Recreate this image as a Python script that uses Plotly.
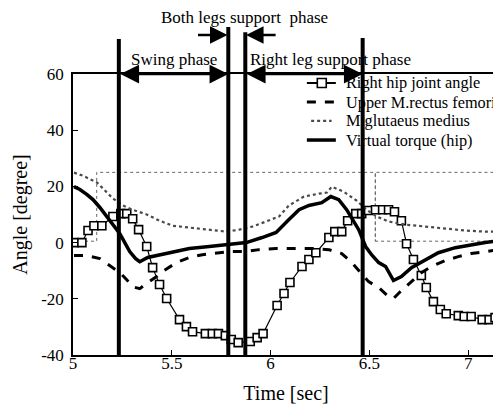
import plotly.graph_objects as go

# ---------------- data ----------------
hip_t = [5.005, 5.045, 5.076, 5.106, 5.146, 5.202, 5.242, 5.272, 5.302, 5.332,
         5.373, 5.403, 5.438, 5.474, 5.539, 5.574, 5.605, 5.670, 5.705, 5.736,
         5.771, 5.801, 5.836, 5.897, 5.932, 5.962, 6.033, 6.068, 6.098, 6.159,
         6.194, 6.229, 6.295, 6.325, 6.360, 6.390, 6.431, 6.461, 6.496, 6.531,
         6.567, 6.597, 6.627, 6.662, 6.688, 6.723, 6.763, 6.788, 6.824, 6.859,
         6.889, 6.950, 6.980, 7.015, 7.071, 7.106, 7.136, 7.170]
hip_v = [0.0, 0.0, 4.3, 6.0, 6.0, 9.3, 10.3, 10.3, 8.5, 4.6,
         -1.4, -8.9, -14.9, -19.9, -27.4, -29.9, -31.7, -32.4, -32.4, -32.4,
         -33.1, -34.5, -35.6, -35.2, -33.8, -32.4, -22.4, -18.1, -14.2, -8.5,
         -6.0, -3.6, 1.8, 3.9, 3.9, 7.8, 10.3, 10.3, 11.4, 11.7,
         11.7, 11.7, 11.0, 7.8, -0.4, -6.0, -11.7, -16.0, -21.0, -23.8,
         -25.3, -26.0, -26.3, -26.3, -27.4, -27.4, -26.7, -26.0]

rect_t = [5.005, 5.071, 5.136, 5.186, 5.237, 5.272, 5.302, 5.338, 5.378, 5.423,
          5.453, 5.524, 5.589, 5.655, 5.725, 5.791, 5.867, 5.942, 6.028, 6.144,
          6.209, 6.295, 6.360, 6.411, 6.456, 6.496, 6.547, 6.597, 6.622, 6.647,
          6.713, 6.763, 6.814, 6.884, 6.950, 7.015, 7.086, 7.160]
rect_v = [-4.6, -4.6, -5.7, -8.2, -10.7, -13.2, -15.7, -16.4, -14.2, -12.1,
          -10.3, -7.1, -5.3, -4.3, -3.6, -3.2, -3.2, -2.5, -2.1, -2.1,
          -2.1, -2.5, -3.9, -7.1, -10.7, -13.9, -16.0, -19.2, -19.9, -18.1,
          -13.9, -10.7, -8.5, -6.4, -5.0, -3.9, -3.2, -2.5]

glut_t = [5.005, 5.050, 5.121, 5.171, 5.202, 5.252, 5.302, 5.373, 5.438, 5.504,
          5.589, 5.675, 5.776, 5.841, 5.907, 5.977, 6.043, 6.093, 6.169, 6.244,
          6.285, 6.310, 6.370, 6.436, 6.486, 6.537, 6.597, 6.683, 6.783, 6.884,
          6.985, 7.086, 7.160]
glut_v = [24.9, 23.8, 21.4, 17.8, 15.7, 13.2, 11.7, 10.0, 7.8, 6.0,
          5.3, 4.6, 3.9, 4.6, 5.7, 7.5, 9.3, 13.2, 16.4, 17.4,
          17.8, 19.9, 18.1, 14.9, 11.7, 9.3, 7.5, 6.4, 5.7, 5.0,
          4.3, 3.9, 3.9]

torq_t = [5.005, 5.035, 5.071, 5.101, 5.136, 5.171, 5.202, 5.237, 5.262, 5.287,
          5.317, 5.338, 5.378, 5.423, 5.489, 5.589, 5.690, 5.791, 5.877, 5.957,
          6.028, 6.093, 6.144, 6.194, 6.259, 6.305, 6.345, 6.385, 6.421, 6.446,
          6.481, 6.511, 6.547, 6.582, 6.622, 6.662, 6.713, 6.783, 6.849, 6.935,
          7.015, 7.086, 7.160]
torq_v = [19.9, 18.9, 17.1, 15.3, 12.5, 9.3, 6.4, 3.2, 0.0, -3.2,
          -5.7, -6.8, -5.3, -4.6, -3.6, -2.1, -1.4, -0.7, 0.0, 1.8,
          3.6, 8.2, 11.7, 13.2, 14.2, 16.4, 15.3, 11.7, 7.5, 4.6,
          -1.4, -4.3, -7.1, -8.5, -13.5, -12.1, -8.9, -6.0, -3.6, -1.8,
          -0.7, 0.0, 0.7]

# thin dotted reference signal (step outline)
ref_t = [5.0, 5.12, 5.12, 6.53, 6.53, 6.53, 7.14, 7.14, 6.53]
ref_v = [0.5, 0.5, 25, 25, 0.5, 25, 25, 0.5, 0.5]

# phase boundaries (sec)
phase_t = [5.232, 5.786, 5.872, 6.466]
phase_top = [1.125, 1.167, 1.149, 1.128]

x_ticks = [5, 5.5, 6, 6.5, 7]
x_tick_text = ["5", "5.5", "6", "6.5", "7"]
y_ticks = [-40, -20, 0, 20, 40, 60]
y_tick_text = ["-40", "-20", "0", "20", "40", "60"]

legend_names = ["Right hip joint angle", "Upper M.rectus femoris",
                "M.glutaeus medius", "Virtual torque (hip)"]

FONT = "Liberation Serif"
BLACK = "black"
GLUT_COLOR = "#4a4a4a"

styles = [
    dict(color=BLACK, width=1.2, dash="solid"),
    dict(color=BLACK, width=3, dash="dash"),
    dict(color=GLUT_COLOR, width=2.2, dash="dot"),
    dict(color=BLACK, width=3.5, dash="solid"),
]

fig = go.Figure()

fig.add_trace(go.Scatter(
    x=ref_t, y=ref_v, mode="lines", showlegend=False, hoverinfo="skip",
    line=dict(color="#666666", width=1, dash="dot")))

fig.add_trace(go.Scatter(
    x=hip_t, y=hip_v, mode="lines+markers", name=legend_names[0], showlegend=False,
    line=styles[0],
    marker=dict(symbol="square", size=8, color="white",
                line=dict(color=BLACK, width=1.6))))

fig.add_trace(go.Scatter(
    x=rect_t, y=rect_v, mode="lines", name=legend_names[1], showlegend=False,
    line=styles[1]))

fig.add_trace(go.Scatter(
    x=glut_t, y=glut_v, mode="lines", name=legend_names[2], showlegend=False,
    line=styles[2]))

fig.add_trace(go.Scatter(
    x=torq_t, y=torq_v, mode="lines", name=legend_names[3], showlegend=False,
    line=styles[3]))

shapes = []
for t, top in zip(phase_t, phase_top):
    shapes.append(dict(type="line", xref="x", yref="paper", x0=t, x1=t,
                       y0=0, y1=top, line=dict(color=BLACK, width=4)))

annotations = []
# double-headed arrows along the top axis
for a, b in [(phase_t[0], phase_t[1]), (phase_t[2], phase_t[3])]:
    annotations.append(dict(x=b, y=60, xref="x", yref="y", ax=a, ay=60,
                            axref="x", ayref="y", showarrow=True, text="",
                            arrowhead=2, startarrowhead=2, arrowside="end+start",
                            arrowsize=1.5, startarrowsize=1.5, arrowwidth=2.5,
                            arrowcolor=BLACK))
# inward arrows for both-legs phase
annotations.append(dict(x=phase_t[1] - 0.004, y=1.139, xref="x", yref="paper",
                        ax=5.625, ay=0, axref="x", ayref="pixel", showarrow=True,
                        text="", arrowhead=2, arrowsize=1.4, arrowwidth=2.5,
                        arrowcolor=BLACK))
annotations.append(dict(x=phase_t[2] + 0.004, y=1.139, xref="x", yref="paper",
                        ax=6.033, ay=0, axref="x", ayref="pixel", showarrow=True,
                        text="", arrowhead=2, arrowsize=1.4, arrowwidth=2.5,
                        arrowcolor=BLACK))
txtfont = dict(family=FONT, size=17, color=BLACK)
legfont = dict(family=FONT, size=16.3, color=BLACK)
annotations.append(dict(x=5.509, y=1.05, xref="x", yref="paper", showarrow=False,
                        xanchor="center", yanchor="middle",
                        text="Swing phase", font=txtfont))
annotations.append(dict(x=6.305, y=1.05, xref="x", yref="paper", showarrow=False,
                        xanchor="center", yanchor="middle",
                        text="Right leg support phase", font=txtfont))
annotations.append(dict(x=5.867, y=1.2, xref="x", yref="paper", showarrow=False,
                        xanchor="center", yanchor="middle",
                        text="Both legs support  phase", font=txtfont))

# hand-placed legend (paper coordinates)
leg_rows = [0.968, 0.900, 0.833, 0.765]
leg_x0, leg_x1, leg_xt, leg_xm = 0.549, 0.617, 0.636, 0.584
for name, st, yy in zip(legend_names, styles, leg_rows):
    x0 = leg_x0 + (0.01 if st["dash"] == "dot" else 0)
    x1 = leg_x1 - (0.01 if st["dash"] == "dot" else 0)
    w = 2 if (st["dash"] == "solid" and st["width"] < 2) else st["width"]
    shapes.append(dict(type="line", xref="paper", yref="paper", x0=x0, x1=x1,
                       y0=yy, y1=yy, line=dict(color=st["color"], width=w,
                                               dash=st["dash"])))
    annotations.append(dict(x=leg_xt, y=yy, xref="paper", yref="paper",
                            showarrow=False, xanchor="left", yanchor="middle",
                            text=name, font=legfont))
shapes.append(dict(type="rect", xref="paper", yref="paper",
                   x0=leg_xm - 0.0105, x1=leg_xm + 0.0105,
                   y0=leg_rows[0] - 0.016, y1=leg_rows[0] + 0.016,
                   fillcolor="white", line=dict(color=BLACK, width=1.6)))

fig.update_layout(
    width=493, height=396,
    margin=dict(l=65, r=0, t=66, b=49),
    paper_bgcolor="white", plot_bgcolor="white",
    font=dict(family=FONT, size=17, color=BLACK),
    shapes=shapes, annotations=annotations,
    showlegend=False,
    xaxis=dict(range=[5, 7.156], tickvals=x_ticks, ticktext=x_tick_text,
               ticks="inside", ticklen=5, tickcolor=BLACK,
               ticklabelstandoff=-8,
               showline=True, linecolor=BLACK, linewidth=1.5, mirror=True,
               showgrid=False, zeroline=False,
               title=dict(text="Time [sec]", font=dict(family=FONT, size=20), standoff=16)),
    yaxis=dict(range=[-40, 60], tickvals=y_ticks, ticktext=y_tick_text,
               ticks="inside", ticklen=5, tickcolor=BLACK,
               ticklabelstandoff=4,
               showline=True, linecolor=BLACK, linewidth=1.5, mirror=True,
               showgrid=False, zeroline=False,
               title=dict(text="Angle [degree]", font=dict(family=FONT, size=20), standoff=8)),
)

fig.write_html("out.html")
